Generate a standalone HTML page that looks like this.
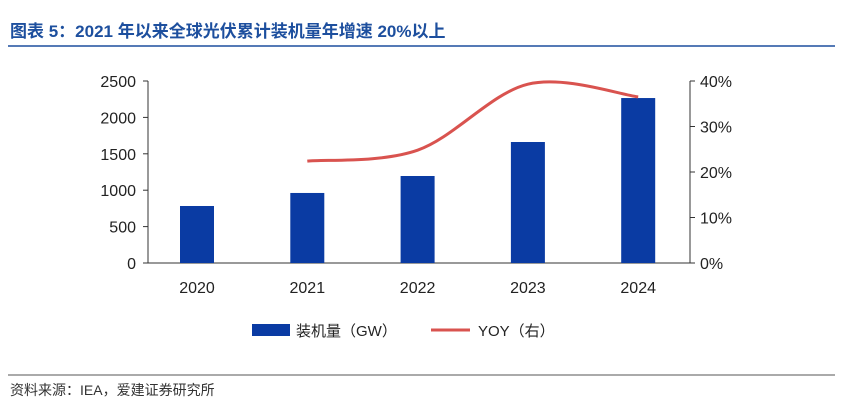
<!DOCTYPE html>
<html><head><meta charset="utf-8"><style>
body{margin:0;background:#fff;width:843px;height:410px;overflow:hidden;font-family:"Liberation Sans","Noto Sans CJK SC",sans-serif}
</style></head><body>
<svg width="843" height="410" xmlns="http://www.w3.org/2000/svg" font-family="Liberation Sans, Noto Sans CJK SC, sans-serif">
<text x="10" y="37" font-size="17" font-weight="bold" fill="#1d4f9e">图表 5：2021 年以来全球光伏累计装机量年增速 20%以上</text>
<line x1="8" y1="46" x2="835" y2="46" stroke="#1d4f9e" stroke-width="1.5"/>
<g id="plot"></g>
<g>
<rect x="252" y="324" width="38" height="12" fill="#0a3ba3"/>
<text x="296" y="336" font-size="15" fill="#222">装机量（GW）</text>
<line x1="431" y1="330" x2="470" y2="330" stroke="#d9534f" stroke-width="3"/>
<text x="478" y="336" font-size="15" fill="#222">YOY（右）</text>
</g>
<line x1="8" y1="375" x2="835" y2="375" stroke="#555" stroke-width="1"/>
<text x="10" y="395" font-size="14" fill="#333">资料来源：IEA，爱建证券研究所</text>
</svg>
<script>
const categories=["2020","2021","2022","2023","2024"];
const capacity=[783,962,1195,1662,2266];
const yoy=[null,22.4,24.8,39.3,36.5];
const leftTicks=[0,500,1000,1500,2000,2500];
const rightTicks=[0,10,20,30,40];
const NS="http://www.w3.org/2000/svg";
const g=document.getElementById('plot');
const y0=263,yTop=81,xL=148,xR=690;
const yL=v=>y0-(v/2500)*(y0-yTop);
const yR=v=>y0-(v/40)*(y0-yTop);
const xC=i=>197+i*110.3;
function mk(t,a){const e=document.createElementNS(NS,t);for(const k in a)e.setAttribute(k,a[k]);g.appendChild(e);return e;}
let e=mk('line',{x1:xL,y1:yTop,x2:xL,y2:y0,stroke:'#333'});


e=mk('line',{x1:xR,y1:yTop,x2:xR,y2:y0,stroke:'#333'});


e=mk('line',{x1:xL,y1:y0,x2:xR,y2:y0,stroke:'#333'});


leftTicks.forEach(v=>{
 const t=mk('line',{x1:xL-5,y1:yL(v),x2:xL,y2:yL(v),stroke:'#333'});
 
 
 const l=mk('text',{x:xL-12,y:yL(v)+6,'font-size':16,'text-anchor':'end',fill:'#222'});l.textContent=v;
 
 
});
rightTicks.forEach(v=>{
 const t=mk('line',{x1:xR,y1:yR(v),x2:xR+5,y2:yR(v),stroke:'#333'});
 
 
 const l=mk('text',{x:xR+10,y:yR(v)+6,'font-size':16,fill:'#222'});l.textContent=v+'%';
 
 
});
categories.forEach((c,i)=>{
 const b=mk('rect',{x:xC(i)-17,y:yL(capacity[i]),width:34,height:y0-yL(capacity[i]),fill:'#0a3ba3'});
 
 
 const l=mk('text',{x:xC(i),y:293,'font-size':16,'text-anchor':'middle',fill:'#222'});l.textContent=c;
 
 
});
const pts=[];yoy.forEach((v,i)=>{if(v!=null)pts.push([xC(i),yR(v)]);});
let d='M'+pts[0][0]+','+pts[0][1];
for(let i=0;i<pts.length-1;i++){
 const p0=pts[Math.max(i-1,0)],p1=pts[i],p2=pts[i+1],p3=pts[Math.min(i+2,pts.length-1)];
 const c1=[p1[0]+(p2[0]-p0[0])/6,p1[1]+(p2[1]-p0[1])/6],c2=[p2[0]-(p3[0]-p1[0])/6,p2[1]-(p3[1]-p1[1])/6];
 d+=' C'+c1+' '+c2+' '+p2;
}
const ln=mk('path',{d:d,fill:'none',stroke:'#d9534f','stroke-width':3});


</script>
</body></html>
